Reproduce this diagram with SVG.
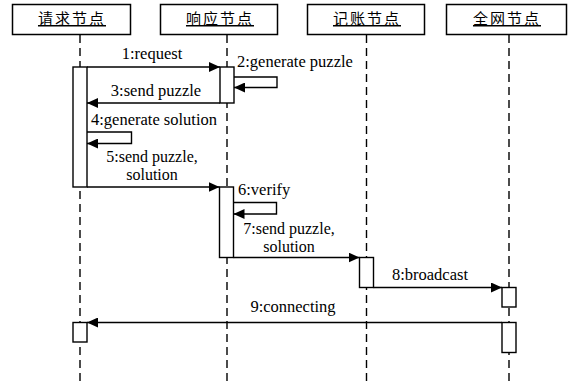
<svg xmlns="http://www.w3.org/2000/svg" width="572" height="381" viewBox="0 0 572 381">
<defs>
<style>
.hdr{fill:#fff;stroke:#000;stroke-width:1.5}
.ht{font-family:"Noto Sans CJK SC",sans-serif;font-size:15px;text-anchor:middle;text-decoration:underline;letter-spacing:2px;fill:#000}
.life{stroke:#000;stroke-width:1.4;stroke-dasharray:8 5;fill:none}
.act{fill:#fff;stroke:#000;stroke-width:1.4}
.msg{stroke:#000;stroke-width:1.4;fill:none;marker-end:url(#ah)}
.lb{font-family:'Liberation Serif','Times New Roman','DejaVu Serif',serif;font-size:16.5px;fill:#000}
.two{font-size:16px}
.c{text-anchor:middle}
</style>
<marker id="ah" markerUnits="userSpaceOnUse" markerWidth="12" markerHeight="10" refX="11" refY="5" orient="auto">
<path d="M0,0 L11,5 L0,10 Z" fill="#000"/>
</marker>
</defs>
<rect width="572" height="381" fill="#fff"/>
<g id="lifelines">
<line class="life" x1="80" y1="35" x2="80" y2="381"/>
<line class="life" x1="227" y1="35" x2="227" y2="381"/>
<line class="life" x1="366.5" y1="35" x2="366.5" y2="381"/>
<line class="life" x1="509" y1="35" x2="509" y2="381"/>
</g>
<g id="node-request">
<rect class="hdr" x="12.5" y="4.5" width="118" height="30"/>
<text class="ht" x="72" y="24">请求节点</text>
</g>
<g id="node-response">
<rect class="hdr" x="160.5" y="4.5" width="117" height="30"/>
<text class="ht" x="220" y="24">响应节点</text>
</g>
<g id="node-ledger">
<rect class="hdr" x="307.5" y="4.5" width="117" height="30"/>
<text class="ht" x="367" y="24">记账节点</text>
</g>
<g id="node-network">
<rect class="hdr" x="446.5" y="4.5" width="120" height="30"/>
<text class="ht" x="507" y="24">全网节点</text>
</g>
<g id="activations">
<rect class="act" x="73" y="67" width="14" height="120"/>
<rect class="act" x="220" y="67" width="14" height="36"/>
<rect class="act" x="219.5" y="187" width="14" height="70.5"/>
<rect class="act" x="359.5" y="257.5" width="14" height="30"/>
<rect class="act" x="502" y="287.5" width="14" height="19.5"/>
<rect class="act" x="502" y="322.5" width="14" height="30"/>
<rect class="act" x="73" y="322.5" width="14" height="19.5"/>
</g>
<g id="connectors">
<line class="msg" x1="87" y1="67" x2="220" y2="67"/>
<path class="msg" d="M234,77 H277 V87.5 H234"/>
<line class="msg" x1="220" y1="103" x2="87" y2="103"/>
<path class="msg" d="M87,132 H131.5 V143.5 H87"/>
<line class="msg" x1="87" y1="187" x2="219.5" y2="187"/>
<path class="msg" d="M233.5,202.5 H276.5 V214 H233.5"/>
<line class="msg" x1="233.5" y1="257.5" x2="359.5" y2="257.5"/>
<line class="msg" x1="373.5" y1="287.5" x2="502" y2="287.5"/>
<line class="msg" x1="502" y1="322.5" x2="87" y2="322.5"/>
</g>
<g id="labels">
<text class="lb c" x="152" y="59">1:request</text>
<text class="lb" x="237" y="67">2:generate puzzle</text>
<text class="lb c" x="156" y="96">3:send puzzle</text>
<text class="lb" x="91" y="125">4:generate solution</text>
<text class="lb two c" x="152" y="161.5">5:send puzzle,</text>
<text class="lb two c" x="152" y="180">solution</text>
<text class="lb" x="238" y="195">6:verify</text>
<text class="lb two c" x="289" y="233.5">7:send puzzle,</text>
<text class="lb two c" x="289" y="252">solution</text>
<text class="lb c" x="430" y="280">8:broadcast</text>
<text class="lb c" x="293" y="312">9:connecting</text>
</g>
</svg>
